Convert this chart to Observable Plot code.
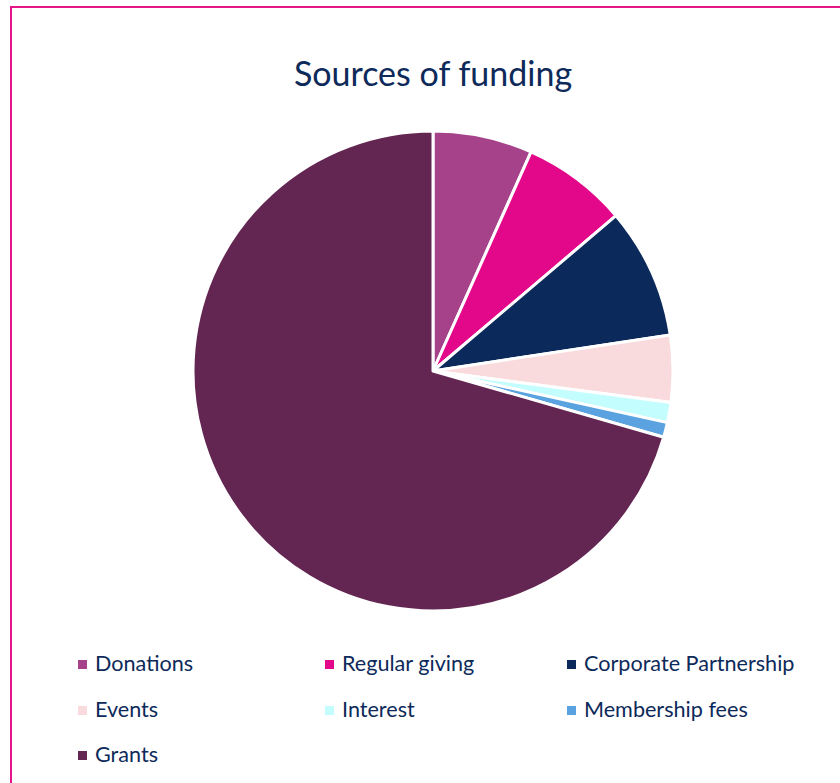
<!DOCTYPE html>
<html>
<head>
<meta charset="utf-8">
<script src="https://cdn.jsdelivr.net/npm/d3@7"></script>
<script src="https://cdn.jsdelivr.net/npm/@observablehq/plot@0.6"></script>
<style>
  html, body { margin: 0; padding: 0; background: #fff; overflow: hidden; width: 840px; height: 783px; }
  #frame { position: absolute; left: 10px; top: 6px; width: 900px; height: 900px; border: 2px solid #e6168a; box-sizing: border-box; }
  #title { position: absolute; left: 0; width: 866px; top: 52px; text-align: center; font-family: Lato, sans-serif; font-size: 34px; color: #0d2a5a; }
  #chart { position: absolute; left: 183px; top: 121px; }
  .leg { position: absolute; font-family: Lato, sans-serif; font-size: 21.6px; color: #0d2a5a; white-space: nowrap; line-height: 24px; }
  .leg i { display: inline-block; width: 9px; height: 9px; margin-right: 8px; vertical-align: 2px; }
</style>
</head>
<body>
<div id="frame"></div>
<div id="title">Sources of funding</div>
<div id="chart"></div>
<div id="legend"></div>
<script>
const categories = ["Donations", "Regular giving", "Corporate Partnership", "Events", "Interest", "Membership fees", "Grants"];
const values = [6.7, 7.1, 8.8, 4.5, 1.35, 1.0, 70.55];
const colors = ["#a5428a", "#e3078a", "#0b2a5b", "#f9dadd", "#c4fdfd", "#5ba3e0", "#632551"];

const data = categories.map((name, i) => ({name, value: values[i]}));
const arcs = d3.pie().sort(null).value(d => d.value)(data);

function pieMark(index, scales, channels, dimensions, context) {
  const cx = scales.x(0), cy = scales.y(0);
  const r = scales.x(1) - scales.x(0);
  const arcGen = d3.arc().innerRadius(0).outerRadius(r);
  const g = d3.create("svg:g").attr("transform", `translate(${cx},${cy})`);
  g.selectAll("path")
    .data(arcs)
    .join("path")
    .attr("d", arcGen)
    .attr("fill", d => scales.color(d.data.name))
    .attr("stroke", "#fff")
    .attr("stroke-width", 3)
    .attr("stroke-linejoin", "round");
  return g.node();
}

const chart = Plot.plot({
  width: 500,
  height: 500,
  margin: 10,
  x: {domain: [-1, 1], axis: null},
  y: {domain: [-1, 1], axis: null},
  color: {domain: categories, range: colors},
  marks: [pieMark]
});
document.getElementById("chart").appendChild(chart);

// legend
const legendPos = [
  [78, 651], [325, 651], [567, 651],
  [78, 697], [325, 697], [567, 697],
  [78, 742]
];
const legend = document.getElementById("legend");
categories.forEach((c, i) => {
  const d = document.createElement("div");
  d.className = "leg";
  d.style.left = legendPos[i][0] + "px";
  d.style.top = legendPos[i][1] + "px";
  d.innerHTML = `<i style="background:${colors[i]}"></i>${c}`;
  legend.appendChild(d);
});
</script>
</body>
</html>
